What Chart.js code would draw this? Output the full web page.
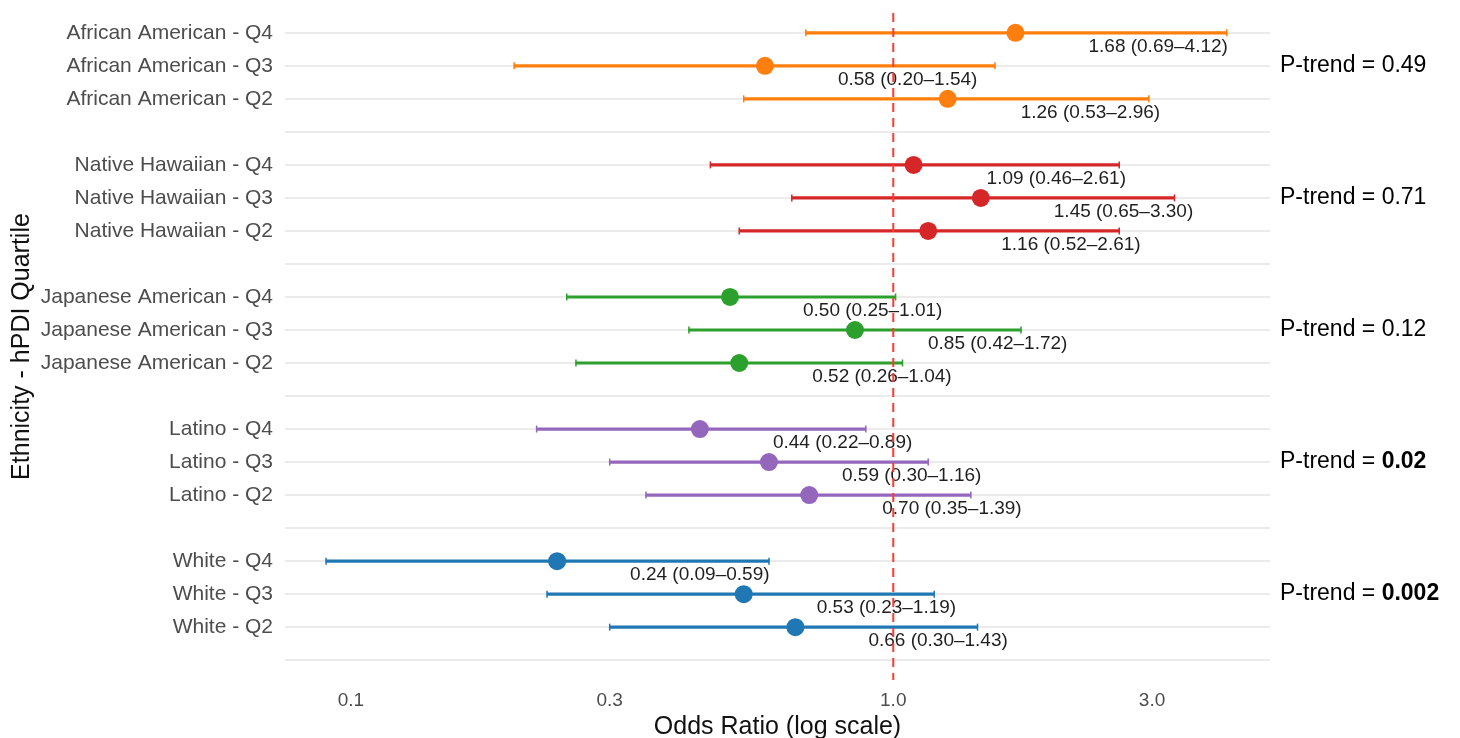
<!DOCTYPE html>
<html>
<head>
    <title>Odds Ratio by Ethnicity and hPDI Quartile</title>
    <style>
        body {
            margin: 0;
            background: #ffffff;
            overflow: hidden;
        }
        #chart-container {
            width: 1460px;
            height: 738px;
        }
    </style>
    <script src="https://cdn.jsdelivr.net/npm/chart.js"></script>
</head>
<body>
    <div id="chart-container">
        <canvas id="forestChart"></canvas>
    </div>
    <script>
        const groups = ['African American', 'Native Hawaiian', 'Japanese American', 'Latino', 'White'];
        const quartiles = ['Q4', 'Q3', 'Q2'];
        const groupColors = ['#ff7f0e', '#d62728', '#2ca02c', '#9467bd', '#1f77b4'];
        const oddsRatio = [1.68, 0.58, 1.26, 1.09, 1.45, 1.16, 0.50, 0.85, 0.52, 0.44, 0.59, 0.70, 0.24, 0.53, 0.66];
        const ciLower = [0.69, 0.20, 0.53, 0.46, 0.65, 0.52, 0.25, 0.42, 0.26, 0.22, 0.30, 0.35, 0.09, 0.23, 0.30];
        const ciUpper = [4.12, 1.54, 2.96, 2.61, 3.30, 2.61, 1.01, 1.72, 1.04, 0.89, 1.16, 1.39, 0.59, 1.19, 1.43];
        const pTrend = ['0.49', '0.71', '0.12', '0.02', '0.002'];
        const pTrendBold = [false, false, false, true, true];
        const xTicks = [0.1, 0.3, 1.0, 3.0];
        const xTickLabels = ['0.1', '0.3', '1.0', '3.0'];

        const FONT = "'Liberation Sans', Arial, sans-serif";

        // each group gets 3 quartile rows plus one empty spacer row
        const rowLabels = [];
        groups.forEach(g => {
            quartiles.forEach(q => rowLabels.push(`${g} - ${q}`));
            rowLabels.push('');
        });

        const rows = [];
        const colors = [];
        oddsRatio.forEach((v, i) => {
            const g = Math.floor(i / quartiles.length);
            rows.push(g * 4 + (i % quartiles.length));
            colors.push(groupColors[g]);
        });

        const barData = oddsRatio.map((v, i) => ({ x: [ciLower[i], ciUpper[i]], y: rows[i] }));
        const pointData = oddsRatio.map((v, i) => ({ x: v, y: rows[i] }));
        const capData = [];
        const capColors = [];
        oddsRatio.forEach((v, i) => {
            capData.push({ x: ciLower[i], y: rows[i] }, { x: ciUpper[i], y: rows[i] });
            capColors.push(colors[i], colors[i]);
        });

        const fmt = v => v.toFixed(2);

        const annotationPlugin = {
            id: 'annotations',
            beforeDatasetsDraw(chart) {
                const { ctx, scales } = chart;
                ctx.save();
                ctx.font = `19px ${FONT}`;
                ctx.fillStyle = '#1f1f1f';
                ctx.textAlign = 'left';
                ctx.textBaseline = 'alphabetic';
                oddsRatio.forEach((v, i) => {
                    const px = scales.x.getPixelForValue(v);
                    const py = scales.y.getPixelForValue(rows[i]);
                    ctx.fillText(`${fmt(v)} (${fmt(ciLower[i])}\u2013${fmt(ciUpper[i])})`, px + 73, py + 19);
                });
                ctx.restore();
            },
            afterDraw(chart) {
                const { ctx, scales, chartArea } = chart;
                ctx.save();
                ctx.fillStyle = '#000000';
                ctx.textAlign = 'left';
                ctx.textBaseline = 'middle';
                groups.forEach((g, gi) => {
                    const py = scales.y.getPixelForValue(gi * 4 + 1);
                    const x0 = chartArea.right + 10;
                    const prefix = 'P-trend = ';
                    ctx.font = `23px ${FONT}`;
                    ctx.fillText(prefix, x0, py);
                    const w = ctx.measureText(prefix).width;
                    ctx.font = `${pTrendBold[gi] ? 'bold ' : ''}23px ${FONT}`;
                    ctx.fillText(pTrend[gi], x0 + w, py);
                });
                ctx.restore();
            }
        };

        const ctx = document.getElementById('forestChart').getContext('2d');
        const chart = new Chart(ctx, {
            type: 'scatter',
            data: {
                datasets: [
                    {
                        type: 'line',
                        data: [{ x: 1, y: -0.6 }, { x: 1, y: 19.6 }],
                        borderColor: '#ff3b30',
                        borderWidth: 2,
                        borderDash: [9, 6],
                        pointRadius: 0,
                        fill: false,
                        order: 0
                    },
                    {
                        data: pointData,
                        pointRadius: 9,
                        pointBackgroundColor: colors,
                        pointBorderWidth: 0,
                        pointBorderColor: colors,
                        order: 1
                    },
                    {
                        data: capData,
                        pointStyle: 'line',
                        rotation: 90,
                        pointRadius: 3.5,
                        pointBorderWidth: 1.5,
                        pointBorderColor: capColors,
                        order: 2
                    },
                    {
                        type: 'bar',
                        indexAxis: 'y',
                        data: barData,
                        backgroundColor: colors,
                        barThickness: 2.5,
                        borderWidth: 0,
                        order: 3
                    }
                ]
            },
            options: {
                responsive: true,
                maintainAspectRatio: false,
                animation: false,
                layout: {
                    padding: { top: 13, right: 190, bottom: 0, left: 0 }
                },
                plugins: {
                    legend: { display: false },
                    tooltip: { enabled: false }
                },
                scales: {
                    x: {
                        type: 'logarithmic',
                        axis: 'x',
                        position: 'bottom',
                        offset: false,
                        min: 0.0756,
                        max: 4.95,
                        afterBuildTicks: scale => {
                            scale.ticks = xTicks.map(v => ({ value: v }));
                        },
                        afterFit: scale => {
                            scale.height = 58;
                            scale.paddingLeft = 0;
                            scale.paddingRight = 0;
                        },
                        ticks: {
                            autoSkip: false,
                            maxRotation: 0,
                            padding: 9,
                            color: '#4d4d4d',
                            font: { family: FONT, size: 19 },
                            callback: value => xTickLabels[xTicks.indexOf(value)]
                        },
                        grid: { display: false, drawTicks: false, offset: false },
                        border: { display: false },
                        title: {
                            display: true,
                            text: 'Odds Ratio (log scale)',
                            color: '#111111',
                            font: { family: FONT, size: 25, lineHeight: 1 },
                            padding: { top: 0, bottom: -2 }
                        }
                    },
                    y: {
                        type: 'linear',
                        axis: 'y',
                        position: 'left',
                        reverse: true,
                        offset: false,
                        min: -0.6,
                        max: 19.6,
                        afterBuildTicks: scale => {
                            scale.ticks = rowLabels.map((l, i) => ({ value: i }));
                        },
                        afterFit: scale => {
                            scale.width = 285;
                            scale.paddingTop = 0;
                            scale.paddingBottom = 0;
                        },
                        ticks: {
                            autoSkip: false,
                            padding: 12,
                            color: '#4d4d4d',
                            font: { family: FONT, size: 21 },
                            callback: value => rowLabels[value]
                        },
                        grid: {
                            color: '#ebebeb',
                            lineWidth: 2,
                            drawTicks: false,
                            offset: false
                        },
                        border: { display: false },
                        title: {
                            display: true,
                            text: 'Ethnicity - hPDI Quartile',
                            color: '#111111',
                            font: { family: FONT, size: 25 },
                            padding: { top: 7, bottom: 0 }
                        }
                    }
                }
            },
            plugins: [annotationPlugin]
        });
    </script>
</body>
</html>
